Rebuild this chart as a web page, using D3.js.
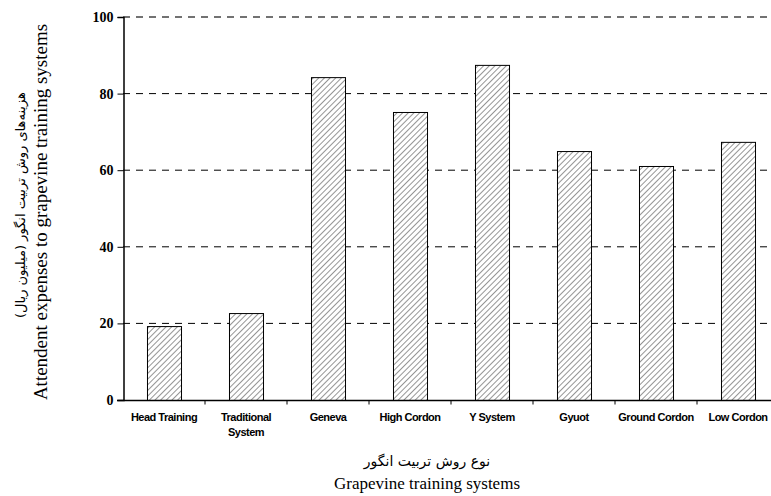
<!DOCTYPE html>
<html lang="en">
<head>
  <meta charset="utf-8" />
  <title>Grapevine training systems</title>
  <script src="https://cdnjs.cloudflare.com/ajax/libs/d3/7.8.5/d3.min.js"></script>
  <style>
    html, body { margin: 0; padding: 0; background: #fff; overflow: hidden; }
    svg { display: block; }
    .ytick text { font-family: 'Liberation Serif', 'Times New Roman', serif; font-weight: bold; font-size: 14px; }
  </style>
</head>
<body>
<svg id="chart" width="771" height="496"></svg>
<script>
  const categories = ["Head Training", "Traditional\nSystem", "Geneva", "High Cordon", "Y System", "Gyuot", "Ground Cordon", "Low Cordon"];
  const expenses = [19.3, 22.7, 84.3, 75.2, 87.5, 65.0, 61.1, 67.4];
  const yTicks = [0, 20, 40, 60, 80, 100];

  const svg = d3.select("#chart");
  const plotLeft = 123, plotRight = 779, plotTop = 17, plotBottom = 400;

  // hatch fill for bars
  const pat = svg.append("defs").append("pattern")
    .attr("id", "hatch")
    .attr("patternUnits", "userSpaceOnUse")
    .attr("width", 4).attr("height", 4)
    .attr("patternTransform", "rotate(45)");
  pat.append("rect").attr("width", 4).attr("height", 4).attr("fill", "#fff");
  pat.append("line").attr("x1", 0).attr("y1", 0).attr("x2", 0).attr("y2", 4)
    .attr("stroke", "#7a7a7a").attr("stroke-width", 1.6);

  const x = d3.scaleBand().domain(categories).range([plotLeft, plotRight])
    .paddingInner(0.585).paddingOuter(0.2925);
  const step = x.step();
  const y = d3.scaleLinear().domain([0, 100]).range([plotBottom, plotTop]);

  // dashed gridlines
  svg.append("g").selectAll("line")
    .data(yTicks.filter(d => d > 0))
    .enter().append("line")
    .attr("x1", plotLeft).attr("x2", plotRight)
    .attr("y1", d => y(d)).attr("y2", d => y(d))
    .attr("stroke", d => d === 100 ? "#444" : "#000")
    .attr("stroke-width", d => d === 100 ? 1.5 : 1)
    .attr("stroke-dasharray", "7,6");

  // bars
  svg.append("g").selectAll("rect")
    .data(expenses)
    .enter().append("rect")
    .attr("x", (d, i) => x(categories[i]) + 0.5)
    .attr("y", d => y(d) + 0.5)
    .attr("width", x.bandwidth())
    .attr("height", d => plotBottom - y(d))
    .attr("fill", "url(#hatch)")
    .attr("stroke", "#000")
    .attr("stroke-width", 1);

  // y axis
  const yAxis = svg.append("g").attr("class", "ytick")
    .attr("transform", "translate(" + (plotLeft + 0.5) + ",0)")
    .call(d3.axisLeft(y).tickValues(yTicks).tickSize(6).tickPadding(4).tickFormat(d3.format("d")));
  yAxis.select(".domain").attr("stroke", "#000").attr("stroke-width", 1.5);
  yAxis.selectAll("text").attr("fill", "#000");

  // x axis with ticks at category boundaries
  const xg = svg.append("g").attr("transform", "translate(0," + (plotBottom + 0.5) + ")");
  xg.append("line").attr("x1", plotLeft - 6).attr("x2", plotRight)
    .attr("stroke", "#000").attr("stroke-width", 1.5);
  xg.selectAll("line.tk")
    .data(categories.slice(1))
    .enter().append("line").attr("class", "tk")
    .attr("x1", d => x(d) - (step - x.bandwidth()) / 2)
    .attr("x2", d => x(d) - (step - x.bandwidth()) / 2)
    .attr("y1", 0).attr("y2", 4)
    .attr("stroke", "#000");
  const labels = xg.selectAll("text.lbl")
    .data(categories)
    .enter().append("text").attr("class", "lbl")
    .attr("x", d => x(d) + x.bandwidth() / 2)
    .attr("y", 20)
    .attr("text-anchor", "middle")
    .attr("font-family", "'Liberation Sans', Arial, sans-serif")
    .attr("font-weight", "bold").attr("font-size", 11)
    .attr("letter-spacing", -0.5)
    .attr("fill", "#000");
  labels.each(function(d) {
    const parts = d.split("\n");
    d3.select(this).selectAll("tspan").data(parts).enter().append("tspan")
      .attr("x", x(d) + x.bandwidth() / 2)
      .attr("dy", (p, i) => i === 0 ? 0 : 15)
      .text(p => p);
  });

  // axis titles
  const serif = "'Liberation Serif', 'Times New Roman', serif";
  svg.append("text")
    .attr("transform", "translate(25,205) rotate(-90)")
    .attr("text-anchor", "middle")
    .attr("direction", "rtl")
    .attr("font-family", "'DejaVu Sans', 'Noto Sans', sans-serif")
    .attr("font-size", 13)
    .text("هزینه‌های روش تربیت انگور (میلیون ریال)");
  svg.append("text")
    .attr("transform", "translate(47,212) rotate(-90)")
    .attr("text-anchor", "middle")
    .attr("font-family", serif)
    .attr("font-size", 19)
    .text("Attendent expenses to grapevine training systems");
  svg.append("text")
    .attr("x", 427).attr("y", 466)
    .attr("text-anchor", "middle")
    .attr("direction", "rtl")
    .attr("font-family", "'DejaVu Sans', 'Noto Sans', sans-serif")
    .attr("font-size", 14)
    .text("نوع روش تربیت انگور");
  svg.append("text")
    .attr("x", 427).attr("y", 489)
    .attr("text-anchor", "middle")
    .attr("font-family", serif)
    .attr("font-size", 17)
    .text("Grapevine training systems");
</script>
</body>
</html>
